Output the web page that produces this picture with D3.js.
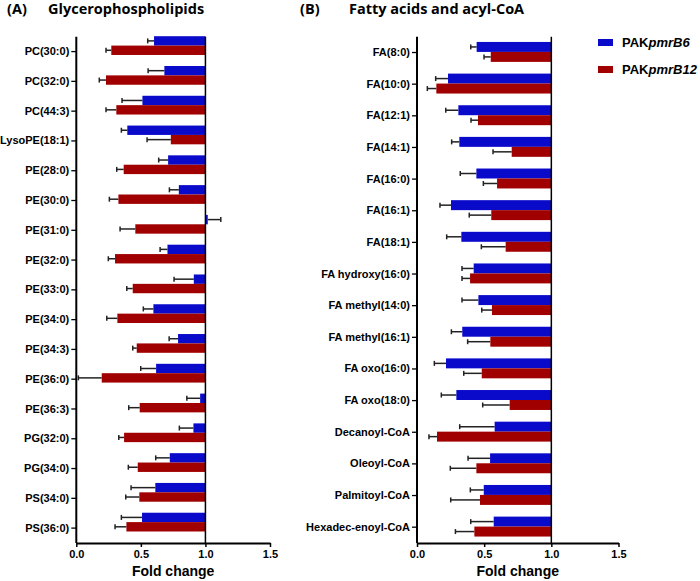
<!DOCTYPE html>
<html>
<head>
<meta charset="utf-8">
<script src="https://cdn.jsdelivr.net/npm/d3@7"></script>
<style>
  html, body { margin: 0; padding: 0; background: #fff; }
  svg { display: block; }
  .tick text { font-family: "Liberation Sans", Arial, sans-serif; font-weight: bold; font-size: 11px; fill: #000; }
</style>
</head>
<body>
<svg id="chart" width="700" height="581"></svg>
<script>
// ---------- DATA ----------
const seriesNames = ["PAKpmrB6", "PAKpmrB12"];
const seriesColors = ["#0a0acb", "#a00000"];
const xTicks = [0, 0.5, 1.0, 1.5];

const glyCategories = ["PC(30:0)", "PC(32:0)", "PC(44:3)", "LysoPE(18:1)", "PE(28:0)", "PE(30:0)", "PE(31:0)",
  "PE(32:0)", "PE(33:0)", "PE(34:0)", "PE(34:3)", "PE(36:0)", "PE(36:3)", "PG(32:0)", "PG(34:0)", "PS(34:0)", "PS(36:0)"];
const glyB6 = [0.602, 0.682, 0.512, 0.395, 0.711, 0.794, 1.018, 0.706, 0.910, 0.597, 0.788, 0.618, 0.959, 0.907, 0.724, 0.612, 0.509];
const glyB6Err = [0.049, 0.126, 0.158, 0.046, 0.073, 0.073, 0.101, 0.057, 0.153, 0.078, 0.069, 0.119, 0.103, 0.109, 0.109, 0.188, 0.160];
const glyB12 = [0.271, 0.230, 0.310, 0.732, 0.367, 0.326, 0.457, 0.300, 0.437, 0.318, 0.468, 0.197, 0.491, 0.370, 0.476, 0.488, 0.388];
const glyB12Err = [0.041, 0.052, 0.080, 0.184, 0.054, 0.070, 0.118, 0.052, 0.046, 0.082, 0.031, 0.181, 0.085, 0.041, 0.073, 0.105, 0.088];

const faCategories = ["FA(8:0)", "FA(10:0)", "FA(12:1)", "FA(14:1)", "FA(16:0)", "FA(16:1)", "FA(18:1)",
  "FA hydroxy(16:0)", "FA methyl(14:0)", "FA methyl(16:1)", "FA oxo(16:0)", "FA oxo(18:0)",
  "Decanoyl-CoA", "Oleoyl-CoA", "Palmitoyl-CoA", "Hexadec-enoyl-CoA"];
const faB6 = [0.444, 0.231, 0.308, 0.315, 0.442, 0.253, 0.330, 0.422, 0.457, 0.337, 0.216, 0.293, 0.578, 0.544, 0.497, 0.571];
const faB6Err = [0.044, 0.092, 0.094, 0.057, 0.120, 0.082, 0.109, 0.087, 0.122, 0.081, 0.087, 0.112, 0.260, 0.164, 0.100, 0.171];
const faB12 = [0.549, 0.144, 0.454, 0.705, 0.596, 0.553, 0.660, 0.395, 0.558, 0.546, 0.482, 0.690, 0.149, 0.442, 0.469, 0.427];
const faB12Err = [0.050, 0.067, 0.052, 0.139, 0.102, 0.164, 0.181, 0.060, 0.076, 0.169, 0.134, 0.201, 0.060, 0.194, 0.218, 0.141];

const baseline = 1.0;

// ---------- DRAW ----------
const svg = d3.select("#chart");

function panel(cfg) {
  const { cats, values, errs, xr, yr, barShift, letter, letterX, title, titleX } = cfg;
  const g = svg.append("g");
  const x = d3.scaleLinear().domain([0, 1.5]).range(xr);
  const yAxisScale = d3.scaleBand().domain(cats).range(yr);
  const yBars = d3.scaleBand().domain(cats).range([yr[0] + barShift, yr[1] + barShift]).paddingInner(0.37).paddingOuter(0.185);
  const ySub = d3.scaleBand().domain(seriesNames).range([0, yBars.bandwidth()]);

  const rows = [];
  cats.forEach((c, i) => {
    seriesNames.forEach((s, k) => {
      rows.push({ cat: c, s: s, k: k, v: values[k][i], e: errs[k][i] });
    });
  });

  // error bars (drawn first, bars over them)
  const eg = g.append("g");
  rows.forEach(d => {
    const dir = d.v >= baseline ? 1 : -1;
    const yc = yBars(d.cat) + ySub(d.s) + ySub.bandwidth() / 2;
    const xe = x(d.v + dir * d.e);
    eg.append("line").attr("x1", x(d.v)).attr("x2", xe).attr("y1", yc).attr("y2", yc)
      .attr("stroke", "#222").attr("stroke-width", 1.5);
    eg.append("line").attr("x1", xe).attr("x2", xe).attr("y1", yc - 2.5).attr("y2", yc + 2.5)
      .attr("stroke", "#222").attr("stroke-width", 1.5);
  });

  // bars from baseline 1.0
  g.append("g").selectAll("rect").data(rows).join("rect")
    .attr("x", d => Math.min(x(d.v), x(baseline)))
    .attr("width", d => Math.abs(x(d.v) - x(baseline)))
    .attr("y", d => yBars(d.cat) + ySub(d.s))
    .attr("height", ySub.bandwidth())
    .attr("fill", d => seriesColors[d.k]);

  // reference line at 1.0
  g.append("line").attr("x1", x(baseline)).attr("x2", x(baseline))
    .attr("y1", yr[0]).attr("y2", yr[1]).attr("stroke", "#000").attr("stroke-width", 1.5);

  // y axis
  const ya = g.append("g").attr("transform", `translate(${xr[0]},0)`)
    .call(d3.axisLeft(yAxisScale).tickSize(5).tickPadding(2).tickSizeOuter(0));
  ya.select(".domain").remove();
  ya.selectAll(".tick line").attr("stroke", "#000").attr("stroke-width", 1.3);
  g.append("line").attr("x1", xr[0]).attr("x2", xr[0]).attr("y1", yr[0]).attr("y2", yr[1])
    .attr("stroke", "#000").attr("stroke-width", 2);

  // x axis
  const xa = g.append("g").attr("transform", `translate(0,${yr[1]})`)
    .call(d3.axisBottom(x).tickValues(xTicks).tickFormat(d3.format(".1f")).tickSize(4).tickPadding(3).tickSizeOuter(0));
  xa.select(".domain").attr("stroke", "#000").attr("stroke-width", 2);
  xa.selectAll(".tick line").attr("stroke", "#000").attr("stroke-width", 1.5);

  g.append("text").attr("x", (xr[0] + xr[1]) / 2).attr("y", 576).attr("text-anchor", "middle")
    .style("font-family", "'Liberation Sans', Arial, sans-serif").style("font-weight", "bold").style("font-size", "14px")
    .text("Fold change");

  // title
  const tf = "'Open Sans', Lato, sans-serif";
  g.append("text").attr("x", letterX).attr("y", 14).style("font-family", tf).style("font-weight", "bold")
    .style("font-size", "14.5px").text(letter);
  g.append("text").attr("x", titleX).attr("y", 14).style("font-family", tf).style("font-weight", "bold")
    .style("font-size", "14.5px").text(title);
}

panel({ cats: glyCategories, values: [glyB6, glyB12], errs: [glyB6Err, glyB12Err],
  xr: [76.3, 270], yr: [36.7, 543], barShift: -6, letter: "(A)", letterX: 7, title: "Glycerophospholipids", titleX: 48 });
panel({ cats: faCategories, values: [faB6, faB12], errs: [faB6Err, faB12Err],
  xr: [417, 618.5], yr: [36.7, 543], barShift: -0.6, letter: "(B)", letterX: 300, title: "Fatty acids and acyl-CoA", titleX: 349 });

// legend
const lg = svg.append("g");
const legendY = d3.scalePoint().domain(seriesNames).range([42.5, 69.5]);
seriesNames.forEach((s, k) => {
  lg.append("rect").attr("x", 598).attr("y", legendY(s) - 3.5).attr("width", 15).attr("height", 7).attr("fill", seriesColors[k]);
  const t = lg.append("text").attr("x", 622).attr("y", legendY(s) + 4.5)
    .style("font-family", "'Liberation Sans', Arial, sans-serif").style("font-weight", "bold").style("font-size", "13px");
  t.append("tspan").text(s.slice(0, 3));
  t.append("tspan").style("font-style", "italic").text(s.slice(3));
});
</script>
</body>
</html>
